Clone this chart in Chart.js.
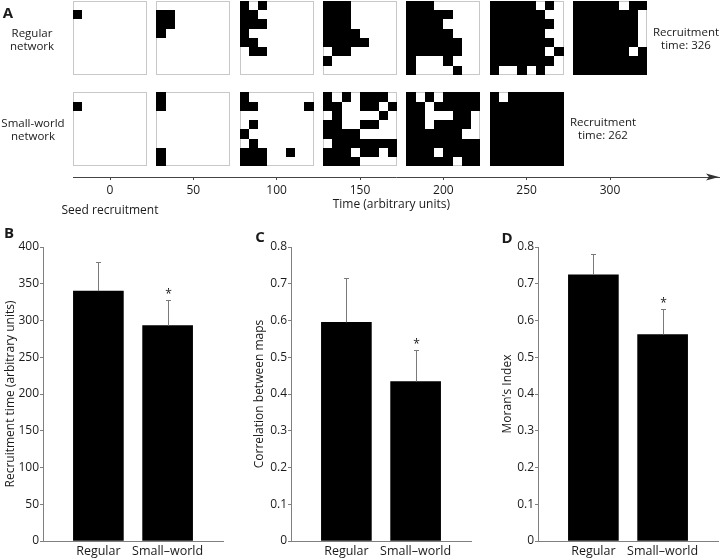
<!DOCTYPE html>
<html>
<head>
<meta charset="utf-8">
<script src="https://cdn.jsdelivr.net/npm/chart.js@4"></script>
<style>
  html, body { margin: 0; padding: 0; background: #fff; }
  #fig { position: relative; width: 720px; height: 560px; overflow: hidden; font-family: 'Open Sans', sans-serif; color: #1a1a1a; }
  canvas { position: absolute; }
  .lbl { position: absolute; transform: translate(-50%, -50%); text-align: center; font-size: 11.5px; line-height: 12.5px; white-space: nowrap; }
  .panel { position: absolute; transform: translate(-50%, -50%); font-weight: 700; font-size: 15px; line-height: 15px; }
</style>
</head>
<body>
<div id="fig">
  <canvas id="mapChart" width="720" height="225" style="left:0;top:0"></canvas>
  <canvas id="chartB" width="240" height="340" style="left:0;top:220px"></canvas>
  <canvas id="chartC" width="240" height="340" style="left:248px;top:220px"></canvas>
  <canvas id="chartD" width="225" height="340" style="left:495px;top:220px"></canvas>

  <div class="panel" style="left:8px;top:12px">A</div>
  <div class="lbl" style="left:32px;top:39px">Regular<br>network</div>
  <div class="lbl" style="left:33px;top:129px">Small-world<br>network</div>
  <div class="lbl" style="left:686px;top:38px">Recruitment<br>time: 326</div>
  <div class="lbl" style="left:603px;top:128px">Recruitment<br>time: 262</div>
  <div class="panel" style="left:9px;top:232px">B</div>
  <div class="panel" style="left:260px;top:236px">C</div>
  <div class="panel" style="left:507px;top:237px">D</div>
</div>

<script>
// --- Data ---
const snapshotTimes = [0, 50, 100, 150, 200, 250, 300];

// recruitment maps, 8x8 cells, '#' = recruited
const regularMaps = [
  ['........', '#.......', '........', '........', '........', '........', '........', '........'],
  ['........', '##......', '##......', '#.......', '........', '........', '........', '........'],
  ['#.#.....', '##......', '###.....', '#.......', '##......', '.##.....', '........', '........'],
  ['###.....', '###.....', '###.....', '####....', '#####...', '.##.....', '#.......', '........'],
  ['###.....', '#####...', '####....', '#####...', '######..', '######..', '#...#...', '#....#..'],
  ['#####.#.', '######..', '#######.', '######..', '#######.', '######.#', '#######.', '#..#.#..'],
  ['#####.##', '#######.', '#######.', '#######.', '#######.', '######.#', '########', '########']
];

const smallWorldMaps = [
  ['........', '#.......', '........', '........', '........', '........', '........', '........'],
  ['#.......', '#.......', '........', '........', '........', '........', '#.......', '#.......'],
  ['#.......', '##.....#', '........', '.#......', '#.......', '.#......', '###..#..', '###.....'],
  ['#.#.###.', '##..##.#', '.#....#.', '##..##..', '####....', '.#######', '###.##.#', '####....'],
  ['#.#.####', '##.#####', '##...##.', '##.####.', '######..', '########', '###.####', '#####.##'],
  ['#.######', '########', '########', '########', '########', '########', '########', '########']
];

const categories = ['Regular', 'Small\u2013world'];
const recruitMean = [340, 293];
const recruitSd = [39, 35];
const corrMean = [0.595, 0.434];
const corrSd = [0.121, 0.085];
const moranMean = [0.724, 0.562];
const moranSd = [0.056, 0.068];
const sigMarks = ['', '*'];

// --- Layout constants ---
const GRID_N = 8;          // cells per side
const MAP_SPAN = 44.4;     // map width in time units
const ROW_TOP = [0, 9.87]; // map row offsets in cell units

Chart.defaults.font.family = "'Open Sans', sans-serif";
Chart.defaults.font.size = 12;
Chart.defaults.color = '#1a1a1a';

// --- Panel A ---
const mapPlugin = {
  id: 'maps',
  beforeDatasetsDraw(chart) {
    const { ctx, scales: { x, y } } = chart;
    ctx.save();
    [regularMaps, smallWorldMaps].forEach((maps, n) => {
      maps.forEach((grid, i) => {
        const t0 = snapshotTimes[i] - MAP_SPAN / 2;
        const cell = MAP_SPAN / GRID_N;
        const px = c => Math.round(x.getPixelForValue(t0 + c * cell));
        const py = r => Math.round(y.getPixelForValue(ROW_TOP[n] + r));
        ctx.strokeStyle = '#c8c8c8';
        ctx.lineWidth = 1;
        ctx.strokeRect(px(0) + 0.5, py(0) + 0.5, px(GRID_N) - px(0) - 1, py(GRID_N) - py(0) - 1);
        ctx.fillStyle = '#000';
        grid.forEach((row, r) => {
          for (let c = 0; c < GRID_N; c++) {
            if (row[c] !== '#') continue;
            ctx.fillRect(px(c), py(r), px(c + 1) - px(c), py(r + 1) - py(r));
          }
        });
      });
    });
    ctx.restore();
  }
};

const arrowPlugin = {
  id: 'arrow',
  afterDraw(chart) {
    const { ctx, chartArea } = chart;
    const tip = chartArea.right;
    const ya = chartArea.bottom;
    ctx.save();
    ctx.fillStyle = '#333';
    ctx.beginPath();
    ctx.moveTo(tip, ya);
    ctx.lineTo(tip - 13, ya - 3.5);
    ctx.lineTo(tip - 10, ya);
    ctx.lineTo(tip - 13, ya + 3.5);
    ctx.closePath();
    ctx.fill();
    ctx.restore();
  }
};

new Chart(document.getElementById('mapChart'), {
  type: 'scatter',
  data: { datasets: [] },
  options: {
    responsive: false,
    animation: false,
    layout: { padding: { left: 73, right: 1, top: 1, bottom: 0 } },
    plugins: { legend: { display: false }, tooltip: { enabled: false } },
    scales: {
      x: {
        type: 'linear', min: -22.2, max: 365.4,
        afterBuildTicks: s => { s.ticks = snapshotTimes.map(v => ({ value: v })); },
        afterFit: s => { s.height = 48; },
        ticks: {
          autoSkip: false, maxRotation: 0, padding: 1,
          font: { size: 12, lineHeight: 1.65 },
          callback: v => v === 0 ? ['0', 'Seed recruitment'] : String(v)
        },
        grid: { drawOnChartArea: false, tickLength: 3, color: '#444' },
        border: { color: '#444' },
        title: { display: true, text: 'Time (arbitrary units)   ', padding: { top: 0, bottom: 13 }, font: { size: 12 } }
      },
      y: { display: false, min: 0, max: 19.03, reverse: true }
    }
  },
  plugins: [mapPlugin, arrowPlugin]
});

// --- Panels B-D ---
function errorBars(sds, marks) {
  return {
    id: 'errorBars',
    afterDatasetsDraw(chart) {
      const { ctx, scales: { y } } = chart;
      const ds = chart.data.datasets[0];
      ctx.save();
      chart.getDatasetMeta(0).data.forEach((bar, i) => {
        const px = Math.round(bar.x) + 0.5;
        const yTop = Math.round(y.getPixelForValue(ds.data[i].y + sds[i])) + 0.5;
        ctx.strokeStyle = '#7a7a7a';
        ctx.lineWidth = 1;
        ctx.beginPath();
        ctx.moveTo(px, bar.y);
        ctx.lineTo(px, yTop);
        ctx.moveTo(px - 2.5, yTop);
        ctx.lineTo(px + 2.5, yTop);
        ctx.stroke();
        if (marks[i]) {
          ctx.fillStyle = '#1a1a1a';
          ctx.font = "12px 'Open Sans'";
          ctx.textAlign = 'center';
          ctx.textBaseline = 'alphabetic';
          ctx.fillText(marks[i], px, yTop - 3);
        }
      });
      ctx.restore();
    }
  };
}

function barChart(id, means, sds, yMax, yStep, yTitle, titlePad, padRight) {
  return new Chart(document.getElementById(id), {
    type: 'bar',
    data: {
      datasets: [{
        data: means.map((v, i) => ({ x: i + 1, y: v })),
        backgroundColor: '#000',
        borderWidth: 0,
        barThickness: 50
      }]
    },
    options: {
      responsive: false,
      animation: false,
      layout: { padding: { top: 27, right: padRight, left: 0, bottom: 0 } },
      plugins: { legend: { display: false }, tooltip: { enabled: false } },
      scales: {
        x: {
          type: 'linear', min: 0.2, max: 2.8, offset: false,
          afterBuildTicks: s => { s.ticks = categories.map((c, i) => ({ value: i + 1 })); },
          afterFit: s => { s.height = 19; },
          ticks: { autoSkip: false, maxRotation: 0, padding: 3, font: { size: 12.5 }, callback: v => categories[v - 1] },
          grid: { display: false, drawTicks: false, offset: false },
          border: { color: '#808080' }
        },
        y: {
          min: 0, max: yMax,
          afterFit: s => { s.width = 43; },
          ticks: { stepSize: yStep, padding: 1 },
          grid: { drawOnChartArea: false, tickLength: 3, color: '#808080' },
          border: { color: '#808080' },
          title: { display: true, text: yTitle, padding: { top: titlePad, bottom: 0 }, font: { size: 12 } }
        }
      }
    },
    plugins: [errorBars(sds, sigMarks)]
  });
}

barChart('chartB', recruitMean, recruitSd, 400, 50, 'Recruitment time (arbitrary units)', 3, 17);
barChart('chartC', corrMean, corrSd, 0.8, 0.1, 'Correlation between maps', 4, 17);
barChart('chartD', moranMean, moranSd, 0.8, 0.1, 'Moran\u2019s Index', 5, 2);
</script>
</body>
</html>
